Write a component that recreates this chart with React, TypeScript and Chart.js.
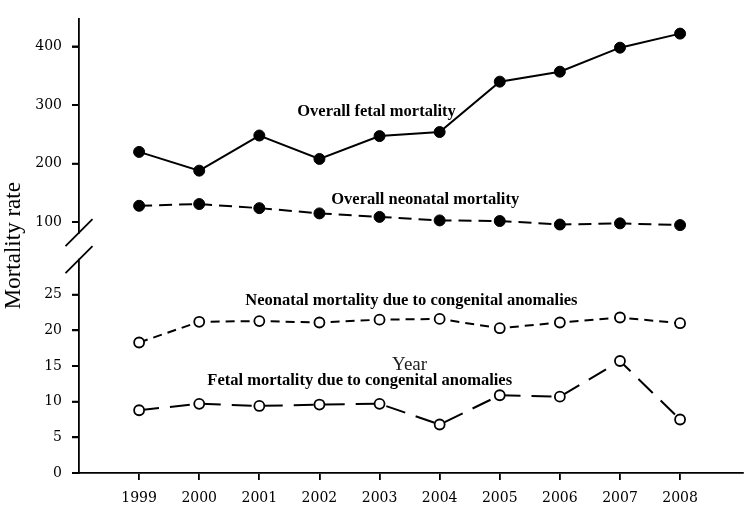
import React, { useEffect, useRef } from 'react';
import { Chart, registerables } from 'chart.js';

Chart.register(...registerables);

const years = [1999, 2000, 2001, 2002, 2003, 2004, 2005, 2006, 2007, 2008];
const overallFetal = [220, 188, 248, 208, 247, 254, 340, 357, 398, 422];
const overallNeonatal = [128, 131, 124, 115, 109, 103, 102, 96, 98, 95];
const neonatalCongenital = [18.3, 21.2, 21.3, 21.1, 21.5, 21.6, 20.3, 21.1, 21.8, 21.0];
const fetalCongenital = [8.8, 9.7, 9.4, 9.6, 9.7, 6.8, 10.9, 10.7, 15.7, 7.5];
const upperTicks = [100, 200, 300, 400];
const lowerTicks = [0, 5, 10, 15, 20, 25];

const upperLabels = [
  { text: 'Overall fetal mortality', x: 2002.95, y: 289 },
  { text: 'Overall neonatal mortality', x: 2003.76, y: 138 },
];
const lowerLabels = [
  { text: 'Neonatal mortality due to congenital anomalies', x: 2003.53, y: 24.1 },
  { text: 'Fetal mortality due to congenital anomalies', x: 2002.67, y: 12.98 },
];
const xTitle = { text: 'Year', x: 2003.5, y: 15.2 };
const yTitle = 'Mortality rate';

const TICK_FONT = { family: 'DejaVu Serif', size: 14 };
const ANN_FONT = 'bold 16.5px "Liberation Serif"';

const pts = (vals: number[]) => years.map((x, i) => ({ x, y: vals[i] }));

const overlay = {
  id: 'overlay',
  afterDraw(chart: any) {
    const { ctx, chartArea, scales } = chart;
    const xs = scales.x;
    const yt = scales.yTop;
    const yb = scales.yBot;
    const left = chartArea.left;
    const b = yt.bottom;
    const h = 13.5;
    ctx.save();
    // erase the axis line inside the break
    ctx.fillStyle = '#fff';
    ctx.fillRect(left - 3, b - h + 1, 6, 2 * h - 2);
    ctx.strokeStyle = '#000';
    ctx.lineWidth = 1.8;
    ctx.lineCap = 'butt';
    [b - h, b + h].forEach((c) => {
      ctx.beginPath();
      ctx.moveTo(left - 13.5, c + 13.5);
      ctx.lineTo(left + 13.5, c - 13.5);
      ctx.stroke();
    });
    // y tick marks
    ctx.beginPath();
    upperTicks.forEach((v) => {
      const p = yt.getPixelForValue(v);
      ctx.moveTo(left - 7, p);
      ctx.lineTo(left, p);
    });
    lowerTicks.forEach((v) => {
      const p = yb.getPixelForValue(v);
      ctx.moveTo(left - 7, p);
      ctx.lineTo(left, p);
    });
    ctx.stroke();
    // y title
    ctx.fillStyle = '#000';
    ctx.font = '23px "Liberation Serif"';
    ctx.textAlign = 'center';
    ctx.textBaseline = 'middle';
    ctx.translate(14, (chartArea.top + chartArea.bottom) / 2);
    ctx.rotate(-Math.PI / 2);
    ctx.fillText(yTitle, 0, 0);
    ctx.restore();

    ctx.save();
    ctx.fillStyle = '#000';
    ctx.textAlign = 'center';
    ctx.textBaseline = 'middle';
    ctx.font = ANN_FONT;
    upperLabels.forEach((a) => ctx.fillText(a.text, xs.getPixelForValue(a.x), yt.getPixelForValue(a.y)));
    lowerLabels.forEach((a) => ctx.fillText(a.text, xs.getPixelForValue(a.x), yb.getPixelForValue(a.y)));
    ctx.font = '19px "Liberation Serif"';
    ctx.fillStyle = '#222';
    ctx.fillText(xTitle.text, xs.getPixelForValue(xTitle.x), yb.getPixelForValue(xTitle.y));
    ctx.restore();
  },
};

export default function App() {
  const ref = useRef<HTMLCanvasElement>(null);
  useEffect(() => {
    if (!ref.current) return;
    const yCommon = (ticks: number[]) => ({
      type: 'linear' as const,
      position: 'left' as const,
      stack: 'y',
      afterBuildTicks: (s: any) => {
        s.ticks = ticks.map((v) => ({ value: v }));
      },
      afterFit: (s: any) => {
        s.width = 79;
      },
      grid: { drawOnChartArea: false, drawTicks: true, tickLength: 7, color: '#000', lineWidth: 1.8 },
      border: { display: true, color: '#000', width: 1.8 },
      ticks: { color: '#000', font: TICK_FONT, padding: 10 },
    });
    const chart = new Chart(ref.current, {
      type: 'line',
      data: {
        datasets: [
          {
            label: 'Overall fetal mortality',
            data: pts(overallFetal),
            yAxisID: 'yTop',
            borderColor: '#000',
            borderWidth: 2,
            pointRadius: 5.5,
            pointBackgroundColor: '#000',
            pointBorderColor: '#000',
            pointBorderWidth: 1,
          },
          {
            label: 'Overall neonatal mortality',
            data: pts(overallNeonatal),
            yAxisID: 'yTop',
            borderColor: '#000',
            borderWidth: 2,
            borderDash: [13, 7],
            pointRadius: 5.5,
            pointBackgroundColor: '#000',
            pointBorderColor: '#000',
            pointBorderWidth: 1,
          },
          {
            label: 'Neonatal mortality due to congenital anomalies',
            data: pts(neonatalCongenital),
            yAxisID: 'yBot',
            borderColor: '#000',
            borderWidth: 2,
            borderDash: [9, 6],
            pointRadius: 5,
            pointBackgroundColor: '#fff',
            pointBorderColor: '#000',
            pointBorderWidth: 1.8,
          },
          {
            label: 'Fetal mortality due to congenital anomalies',
            data: pts(fetalCongenital),
            yAxisID: 'yBot',
            borderColor: '#000',
            borderWidth: 2,
            borderDash: [20, 11],
            pointRadius: 5,
            pointBackgroundColor: '#fff',
            pointBorderColor: '#000',
            pointBorderWidth: 1.8,
          },
        ],
      },
      options: {
        responsive: false,
        animation: false,
        layout: { padding: { top: 7, right: 2, left: 0, bottom: 0 } },
        plugins: { legend: { display: false }, tooltip: { enabled: false }, title: { display: false } },
        scales: {
          x: {
            type: 'linear',
            min: 1998,
            max: 2009.05,
            afterBuildTicks: (s: any) => {
              s.ticks = years.map((v) => ({ value: v }));
            },
            afterFit: (s: any) => {
              s.height = 37;
            },
            grid: { drawOnChartArea: false, drawTicks: true, tickLength: 7, color: '#000', lineWidth: 1.8 },
            border: { display: true, color: '#000', width: 1.8 },
            ticks: { color: '#000', font: TICK_FONT, padding: 10, callback: (v: any) => String(v), maxRotation: 0 },
          },
          yBot: { ...yCommon(lowerTicks), min: 0, max: 31.8, stackWeight: 232.5 },
          yTop: { ...yCommon(upperTicks), min: 59, max: 448, stackWeight: 233.5 },
        },
      },
      plugins: [overlay],
    });
    return () => chart.destroy();
  }, []);
  return (
    <div style={{ position: 'fixed', left: 0, top: 0, width: 750, height: 510, background: '#fff' }}>
      <canvas ref={ref} width={750} height={510} />
    </div>
  );
}
